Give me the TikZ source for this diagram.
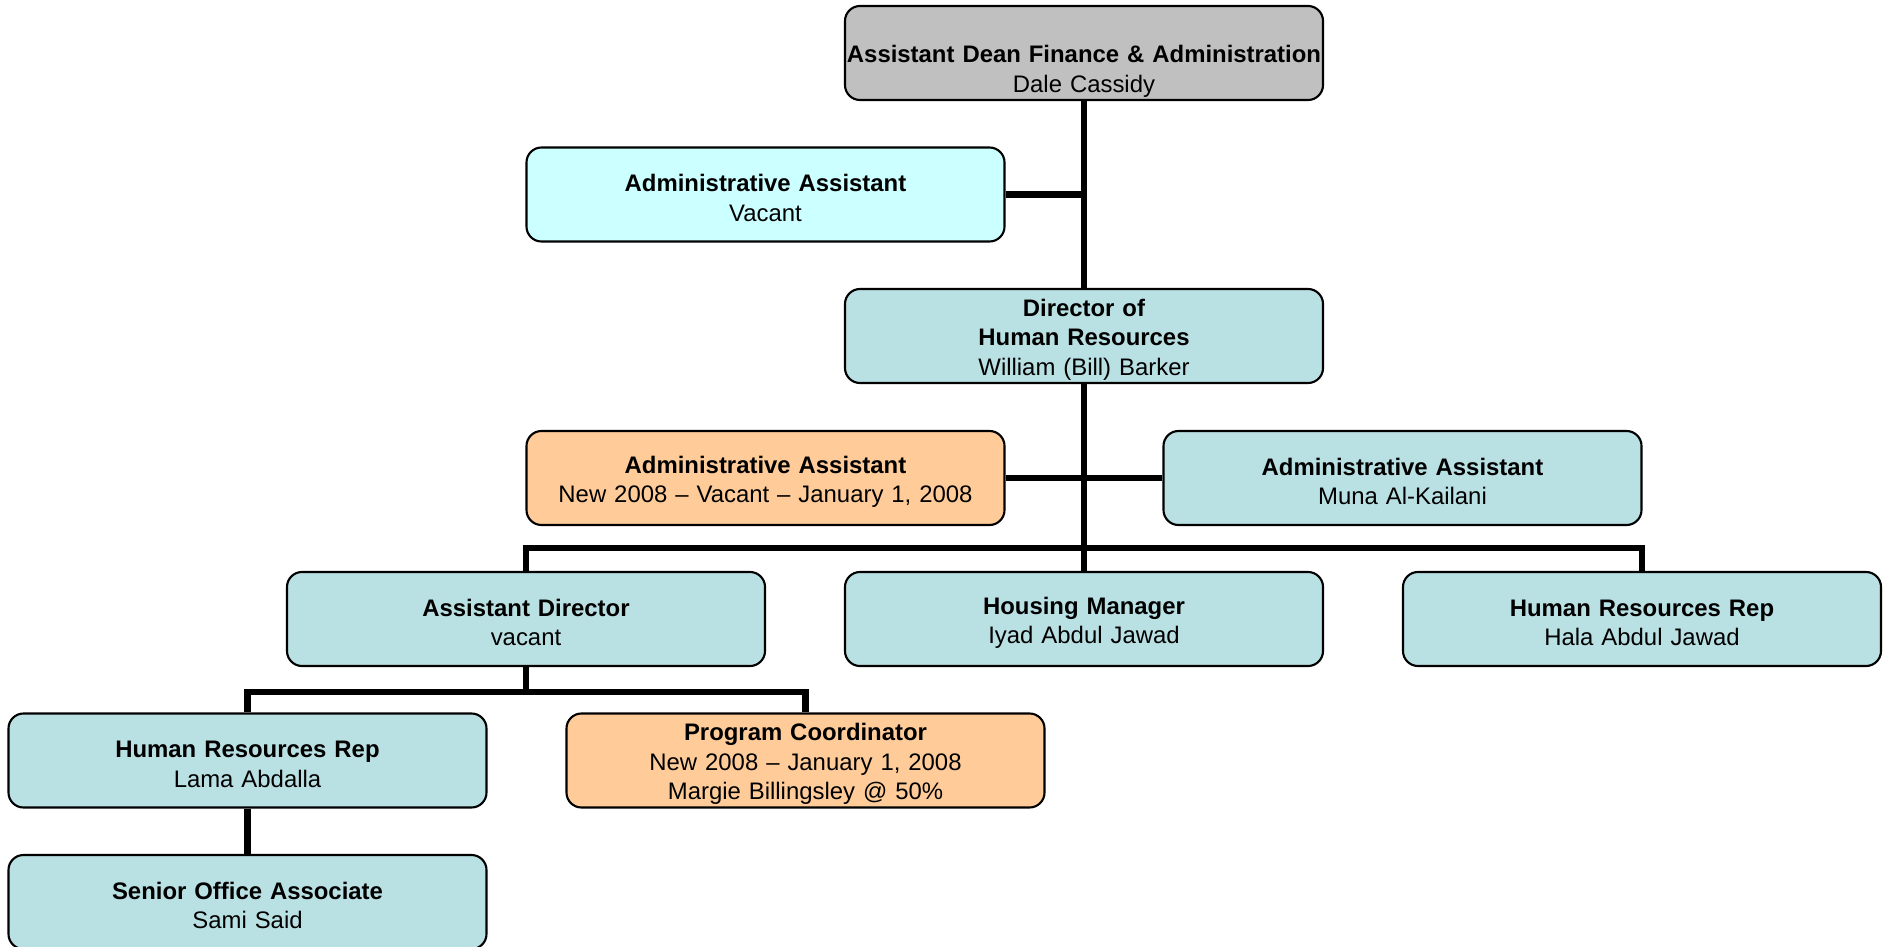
\documentclass[tikz,border=0pt]{standalone}
\usepackage{fontspec}
\setmainfont{Liberation Sans}
\usetikzlibrary{positioning}

\definecolor{deangray}{RGB}{192,192,192}
\definecolor{paleaqua}{RGB}{204,255,255}
\definecolor{hrblue}{RGB}{185,224,227}
\definecolor{newpeach}{RGB}{255,204,153}

\begin{document}
\begin{tikzpicture}[
        node distance=2.83cm,
        on grid,
        role/.style={draw, line width=1.2pt, fill=hrblue, rounded corners=0.3cm,
            minimum width=9.56cm, minimum height=1.88cm, inner sep=1pt,
            text width=9.49cm, align=center, font=\fontsize{13.6}{16.8}\selectfont,
            execute at begin node={\rule{0pt}{14pt}}},
        wire/.style={line width=3.5pt}
        ]
            \useasboundingbox (0,0) rectangle (37.7,-18.94);

            \node[role, fill=deangray] (DEAN) at (21.68,-1.06)
                {\strut\\\textbf{Assistant Dean Finance \& Administration}\\Dale Cassidy};
            \node[role, fill=paleaqua, below left=2.83cm and 6.37cm of DEAN] (ADMINA)
                {\textbf{Administrative Assistant}\\Vacant};
            \node[role, below=5.66cm of DEAN] (DIRECTOR)
                {\textbf{Director of}\\\textbf{Human Resources}\\William (Bill) Barker};
            \node[role, fill=newpeach, below left=2.84cm and 6.37cm of DIRECTOR] (ADMINB)
                {\textbf{Administrative Assistant}\\New 2008 -- Vacant -- January 1, 2008};
            \node[role, below right=2.84cm and 6.37cm of DIRECTOR] (ADMINC)
                {\textbf{Administrative Assistant}\\Muna Al-Kailani};
            \node[role, below=5.66cm of DIRECTOR] (HOUSING)
                {\textbf{Housing Manager}\\Iyad Abdul Jawad};
            \node[role, left=11.16cm of HOUSING] (ASSTDIR)
                {\textbf{Assistant Director}\\vacant};
            \node[role, right=11.16cm of HOUSING] (HRREP)
                {\textbf{Human Resources Rep}\\Hala Abdul Jawad};
            \node[role, below left=2.83cm and 5.57cm of ASSTDIR] (LAMA)
                {\textbf{Human Resources Rep}\\Lama Abdalla};
            \node[role, fill=newpeach, below right=2.83cm and 5.59cm of ASSTDIR] (PROGRAM)
                {\textbf{Program Coordinator}\\New 2008 -- January 1, 2008\\Margie Billingsley @ 50\%};
            \node[role, below=of LAMA] (SENIOR)
                {\textbf{Senior Office Associate}\\Sami Said};

            \coordinate (BUSA) at ([yshift=0.46cm]HOUSING.north);
            \coordinate (BUSB) at ([yshift=-0.5cm]ASSTDIR.south);

            \draw[wire] (DEAN) -- (DIRECTOR);
            \draw[wire] (ADMINA.east) -- (ADMINA.east -| DEAN.south);
            \draw[wire] (ADMINB) -- (ADMINC);
            \draw[wire] (DIRECTOR) -- (HOUSING);
            \draw[wire] (ASSTDIR.north) |- (BUSA) -| (HRREP.north);
            \draw[wire] (ASSTDIR) -- (BUSB);
            \draw[wire] (LAMA.north) |- (BUSB) -| (PROGRAM.north);
            \draw[wire] (LAMA) -- (SENIOR);
        \end{tikzpicture}
\end{document}
